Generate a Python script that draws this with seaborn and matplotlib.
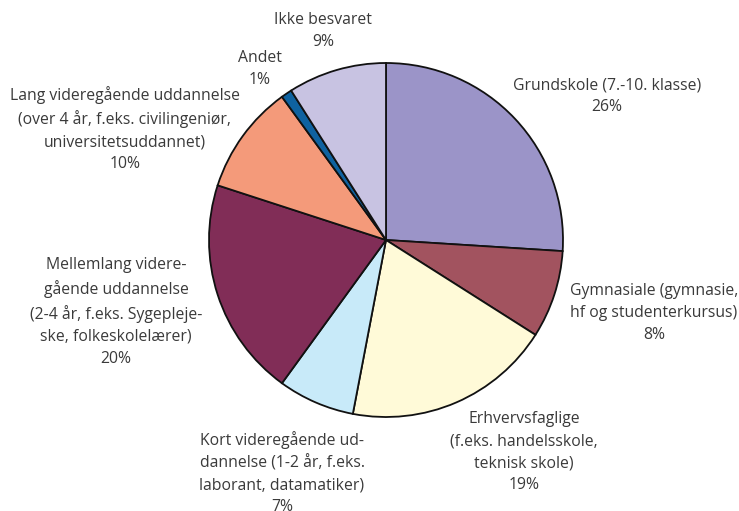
import matplotlib
matplotlib.use("Agg")
import matplotlib.pyplot as plt
import seaborn as sns

# uddannelse - andel i procent
categories = [
    "Grundskole (7.-10. klasse)",
    "Gymnasiale (gymnasie,\nhf og studenterkursus)",
    "Erhvervsfaglige\n(f.eks. handelsskole,\nteknisk skole)",
    "Kort videregående ud-\ndannelse (1-2 år, f.eks.\nlaborant, datamatiker)",
    "Mellemlang videre-\ngående uddannelse\n(2-4 år, f.eks. Sygepleje-\nske, folkeskolelærer)",
    "Lang videregående uddannelse\n(over 4 år, f.eks. civilingeniør,\nuniversitetsuddannet)",
    "Andet",
    "Ikke besvaret",
]
shares = [26, 8, 19, 7, 20, 10, 1, 9]
colors = ["#9b94c8", "#a2535f", "#fffad8", "#c8eaf9", "#812d57",
          "#f49a7a", "#0f62a0", "#c8c3e2"]

# label centres in pixel coords (x, y from top)
label_pos = [(607, 96), (654, 313), (524, 452), (282, 473),
             (116, 312), (125, 129), (260, 69), (323, 31)]

sns.set_style("white")
plt.rcParams['font.family'] = ['Open Sans', 'DejaVu Sans']

W, H = 739, 511
fig = plt.figure(figsize=(W / 100, H / 100), dpi=100)
ax = fig.add_axes([0, 0, 1, 1])
ax.axis("off")

ax.pie(shares, colors=colors, startangle=90, counterclock=False,
       center=(386, H - 240), radius=177,
       wedgeprops=dict(edgecolor="#111111", linewidth=1.3))
ax.set_xlim(0, W)
ax.set_ylim(0, H)
ax.set_aspect("equal")

for name, val, (x, y) in zip(categories, shares, label_pos):
    ax.text(x, H - y, f"{name}\n{val}%", ha="center", va="center",
            fontsize=11.3, color="#3a3a3a", linespacing=1.5)

fig.savefig("out.png", dpi=100)
